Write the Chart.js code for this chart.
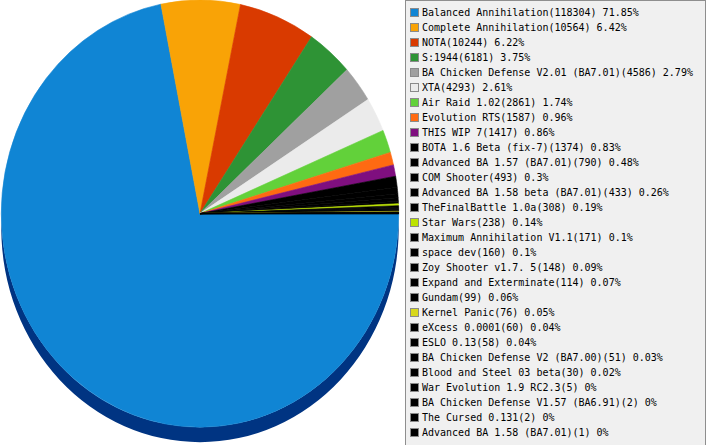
<!DOCTYPE html>
<html>
<head>
<meta charset="utf-8">
<script src="https://cdn.jsdelivr.net/npm/chart.js@4/dist/chart.umd.min.js"></script>
<style>
  body { margin: 0; background: #fff; }
  #wrap { position: absolute; left: 0; top: 0; width: 404px; height: 445px; }
  #legend {
    position: absolute; left: 405px; top: 0; width: 299px; height: 441px;
    border: 1px solid #8e8e8e; background: #f0f0f0;
    padding-top: 4px; box-sizing: content-box;
    font: 10px "DejaVu Sans Mono", monospace; color: #000;
  }
  .row { height: 15px; line-height: 15px; display: flex; align-items: center; white-space: pre; }
  .box { width: 9px; height: 9px; box-sizing: border-box; border: 1px solid #8a8a8a; margin: 0 3px 0 4px; flex: none; }
</style>
</head>
<body>
<div id="wrap"><canvas id="pie"></canvas></div>
<div id="legend"></div>
<script>
// games and how many times each was played
const games = [
  'Balanced Annihilation', 'Complete Annihilation', 'NOTA', 'S:1944',
  'BA Chicken Defense V2.01 (BA7.01)', 'XTA', 'Air Raid 1.02', 'Evolution RTS',
  'THIS WIP 7', 'BOTA 1.6 Beta (fix-7)', 'Advanced BA 1.57 (BA7.01)', 'COM Shooter',
  'Advanced BA 1.58 beta (BA7.01)', 'TheFinalBattle 1.0a', 'Star Wars',
  'Maximum Annihilation V1.1', 'space dev', 'Zoy Shooter v1.7. 5',
  'Expand and Exterminate', 'Gundam', 'Kernel Panic', 'eXcess 0.0001', 'ESLO 0.13',
  'BA Chicken Defense V2 (BA7.00)', 'Blood and Steel 03 beta', 'War Evolution 1.9 RC2.3',
  'BA Chicken Defense V1.57 (BA6.91)', 'The Cursed 0.131', 'Advanced BA 1.58 (BA7.01)'
];
const plays = [
  118304, 10564, 10244, 6181, 4586, 4293, 2861, 1587, 1417, 1374, 790, 493, 433,
  308, 238, 171, 160, 148, 114, 99, 76, 60, 58, 51, 30, 5, 2, 2, 1
];
const sliceColors = [
  '#1085d4', '#f9a306', '#d93a00', '#2e9335', '#a0a0a0', '#ebebeb', '#62d13a',
  '#ff6a12', '#7f0f7f', '#000000', '#000000', '#000000', '#000000', '#000000',
  '#bde300', '#000000', '#000000', '#000000', '#000000', '#000000', '#d8d81c',
  '#000000', '#000000', '#000000', '#000000', '#000000', '#000000', '#000000', '#000000'
];
const wallColor = '#003482';

const SQUASH = 1.075;  // pie is a bit taller than wide
const DEPTH = 15;      // thickness of the 3d edge in px

const total = plays.reduce((a, b) => a + b, 0);
const pct = v => Math.round(v / total * 10000) / 100;

// tilt the pie and draw the side wall under the front half
const tiltPlugin = {
  id: 'tilt',
  beforeDatasetsDraw(chart) {
    const meta = chart.getDatasetMeta(0);
    if (!meta.data.length) return;
    const first = meta.data[0];
    const cx = first.x, cy = first.y, r = first.outerRadius;
    const ctx = chart.ctx;
    ctx.save();
    ctx.translate(cx, r * SQUASH);
    ctx.scale(1, SQUASH);
    ctx.translate(-cx, -cy);

    const d = DEPTH / SQUASH;
    meta.data.forEach(arc => {
      const s = Math.max(arc.startAngle, 0);
      const e = Math.min(arc.endAngle, Math.PI);
      if (e <= s) return;
      ctx.beginPath();
      ctx.arc(cx, cy, r, s, e);
      ctx.arc(cx, cy + d, r, e, s, true);
      ctx.closePath();
      ctx.fillStyle = wallColor;
      ctx.fill();
    });
  },
  afterDatasetsDraw(chart) {
    chart.ctx.restore();
  }
};

const chart = new Chart(document.getElementById('pie'), {
  type: 'pie',
  data: {
    labels: games,
    datasets: [{
      data: plays,
      backgroundColor: sliceColors,
      borderColor: sliceColors,  // hide the seams between slices
      borderWidth: 0.6,
      clip: false
    }]
  },
  options: {
    responsive: true,
    maintainAspectRatio: false,
    animation: false,
    rotation: 90,
    layout: { padding: { left: 1, right: 5, top: 0, bottom: 47 } },
    plugins: {
      legend: { display: false },
      tooltip: { enabled: false }
    }
  },
  plugins: [tiltPlugin]
});

// html legend on the right
const legend = document.getElementById('legend');
games.forEach((name, i) => {
  const row = document.createElement('div');
  row.className = 'row';
  const box = document.createElement('span');
  box.className = 'box';
  box.style.background = sliceColors[i];
  const txt = document.createElement('span');
  txt.textContent = name + '(' + plays[i] + ') ' + pct(plays[i]) + '%';
  row.appendChild(box);
  row.appendChild(txt);
  legend.appendChild(row);
});
</script>
</body>
</html>
